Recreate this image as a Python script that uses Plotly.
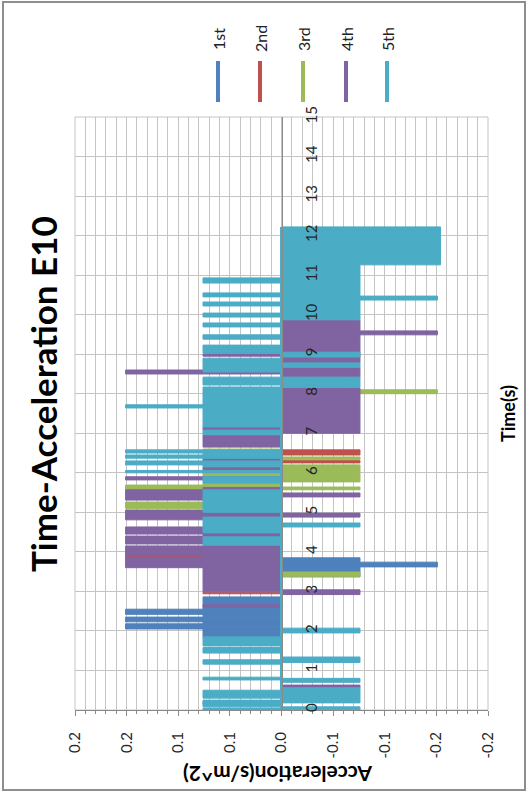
import plotly.graph_objects as go

# Acceleration records of five runs. Each stretch lists the start time (s),
# the end time (s) and the acceleration level the samples swing to from rest.
first_runs = [
    (1.83, 2.86, 0.076),
    (2.05, 2.18, 0.151), (2.23, 2.35, 0.151), (2.42, 2.55, 0.151),
    (3.37, 3.85, -0.076),
    (3.62, 3.74, -0.151),
]
second_runs = [
    (2.94, 2.98, 0.076),
    (3.87, 3.93, 0.151),
    (6.25, 6.31, -0.076),
    (6.45, 6.58, -0.076),
]
third_runs = [
    (3.37, 3.49, -0.076),
    (3.95, 4.00, 0.076),
    (5.10, 5.26, 0.151),
    (5.57, 5.69, 0.151),
    (5.64, 5.74, 0.076),
    (5.90, 6.02, 0.076),
    (6.53, 6.60, 0.076),
    (5.57, 5.64, -0.076),
    (5.77, 6.20, -0.076),
    (6.33, 6.40, -0.076),
    (8.00, 8.10, -0.151),
]
fourth_runs = [
    (0.16, 0.20, 0.076),
    (2.60, 2.66, 0.076), (2.99, 3.93, 0.076), (4.02, 4.17, 0.076),
    (4.40, 4.48, 0.076), (5.57, 5.63, 0.076), (6.02, 6.15, 0.076),
    (6.27, 6.37, 0.076), (6.65, 6.96, 0.076), (7.08, 7.16, 0.076),
    (8.95, 9.01, 0.076),
    (3.60, 3.87, 0.151), (3.93, 4.15, 0.151), (4.20, 4.40, 0.151),
    (4.45, 4.63, 0.151), (4.81, 5.06, 0.151), (5.31, 5.57, 0.151),
    (5.82, 5.90, 0.151), (8.50, 8.60, 0.151),
    (0.56, 0.63, -0.076), (2.92, 3.04, -0.076), (4.88, 4.98, -0.076),
    (5.39, 5.49, -0.076), (7.00, 8.15, -0.076), (8.42, 8.67, -0.076),
    (8.78, 9.87, -0.076),
    (9.49, 9.59, -0.151),
]
fifth_runs = [
    (0.00, 0.05, 0.076), (0.08, 0.25, 0.076), (0.30, 0.50, 0.076),
    (0.76, 0.83, 0.076), (1.16, 1.27, 0.076), (1.44, 1.58, 0.076),
    (1.62, 1.85, 0.076), (4.17, 4.38, 0.076), (4.48, 4.88, 0.076),
    (5.00, 5.57, 0.076), (5.74, 5.90, 0.076), (6.15, 6.27, 0.076),
    (6.37, 6.53, 0.076), (6.96, 7.08, 0.076), (7.16, 8.17, 0.076),
    (8.22, 8.42, 0.076), (8.55, 8.90, 0.076), (9.03, 9.23, 0.076),
    (9.38, 9.49, 0.076), (9.69, 9.79, 0.076), (9.94, 10.04, 0.076),
    (10.22, 10.32, 0.076), (10.45, 10.55, 0.076), (10.80, 10.93, 0.076),
    (6.00, 6.06, 0.151), (6.20, 6.30, 0.151), (6.37, 6.45, 0.151),
    (6.50, 6.58, 0.151), (7.64, 7.72, 0.151),
    (0.00, 0.08, -0.076), (0.18, 0.56, -0.076), (0.70, 0.80, -0.076),
    (1.20, 1.34, -0.076), (1.95, 2.07, -0.076), (4.63, 4.73, -0.076),
    (8.17, 8.42, -0.076), (8.67, 8.78, -0.076), (8.93, 9.05, -0.076),
    (9.87, 11.26, -0.076),
    (10.37, 10.47, -0.151), (11.26, 12.22, -0.154),
]

series_names = ["1st", "2nd", "3rd", "4th", "5th"]
series_runs = [first_runs, second_runs, third_runs, fourth_runs, fifth_runs]
series_colors = ["#4F81BD", "#C0504D", "#9BBB59", "#8064A2", "#4BACC6"]

accel_ticks = [0.2, 0.15, 0.1, 0.05, 0.0, -0.05, -0.1, -0.15, -0.2]
accel_tick_text = ["0.2", "0.2", "0.1", "0.1", "0.0", "-0.1", "-0.1", "-0.2", "-0.2"]
time_ticks = list(range(0, 16))

# page geometry (pixels) of the plotting rectangle
W, H = 528, 794
L, R, T, B = 75, 488, 117, 710
FONT = "Lato"
GRID = "#c4c4c4"
AXIS = "#8a8a8a"


def px_x(px):
    return (px - L) / (R - L)


def px_y(py):
    return (B - py) / (B - T)


def outline(runs):
    xs, ys = [], []
    for t0, t1, a in runs:
        xs += [0, a, a, 0, 0, None]
        ys += [t0, t0, t1, t1, t0, None]
    return xs, ys


fig = go.Figure()
for name, runs, color in zip(series_names, series_runs, series_colors):
    xs, ys = outline(runs)
    fig.add_trace(go.Scatter(
        x=xs, y=ys, mode="lines", fill="toself", fillcolor=color,
        line=dict(color=color, width=1), name=name,
        showlegend=False, hoverinfo="skip",
    ))
    t_start = min(r[0] for r in runs)
    t_end = max(r[1] for r in runs)
    fig.add_trace(go.Scatter(
        x=[0, 0], y=[t_start, t_end], mode="lines",
        line=dict(color=color, width=3), showlegend=False, hoverinfo="skip",
    ))


def label(text, px, py, size, angle, bold=True, color="#000000"):
    return dict(text=f"<b>{text}</b>" if bold else text, textangle=angle,
                x=px_x(px), y=px_y(py), xref="paper", yref="paper",
                xanchor="center", yanchor="middle", showarrow=False,
                font=dict(family=FONT, size=size, color=color))


annotations = [
    label("Time-Acceleration E10", 43, 394, 35, -90),
    label("Time(s)", 508, 414, 18, -90),
    label("Acceleration(s/m^2)", 278, 775, 21, 180),
]
shapes = [
    dict(type="rect", xref="paper", yref="paper",
         x0=px_x(3), x1=px_x(525), y0=px_y(790), y1=px_y(2),
         line=dict(color="#8e8e8e", width=2), layer="below"),
    dict(type="rect", xref="paper", yref="paper", x0=0, x1=1, y0=0, y1=1,
         line=dict(color=GRID, width=1), layer="below"),
]

# legend: a short vertical stroke per series with its rotated name above
legend_x = [218, 260, 303, 346, 387]
for name, color, lx in zip(series_names, series_colors, legend_x):
    shapes.append(dict(type="line", xref="paper", yref="paper",
                       x0=px_x(lx), x1=px_x(lx), y0=px_y(102), y1=px_y(61),
                       line=dict(color=color, width=4)))
    annotations.append(label(name, lx, 39, 16, -90, bold=False,
                             color="#222222"))

fig.update_layout(
    width=W, height=H,
    margin=dict(l=L, r=W - R, t=T, b=H - B, pad=0),
    paper_bgcolor="white", plot_bgcolor="white",
    showlegend=False,
    annotations=annotations, shapes=shapes,
    xaxis=dict(
        range=[0.2, -0.2], tickmode="array", tickvals=accel_ticks,
        ticktext=accel_tick_text, tickangle=-90, ticks="outside", ticklen=5,
        tickcolor=AXIS, showline=True, linecolor=AXIS, linewidth=1,
        showgrid=True, gridcolor=GRID, gridwidth=1, zeroline=False,
        tickfont=dict(family=FONT, size=15, color="#262626"),
        ticklabelstandoff=10, automargin=False,
        minor=dict(tickmode="linear", tick0=0, dtick=0.01, ticks="outside",
                   ticklen=3, tickcolor=AXIS, showgrid=True, gridcolor=GRID),
    ),
    yaxis=dict(
        range=[0, 15], tickmode="array", tickvals=time_ticks,
        ticktext=[str(t) for t in time_ticks],
        anchor="free", position=0.5, side="right", tickangle=-90,
        showline=True, linecolor=AXIS, linewidth=1, showgrid=True,
        gridcolor=GRID, gridwidth=1, zeroline=False, ticks="",
        tickfont=dict(family=FONT, size=15, color="#262626"),
        ticklabelstandoff=16, automargin=False,
    ),
)

fig.write_html("out.html")
